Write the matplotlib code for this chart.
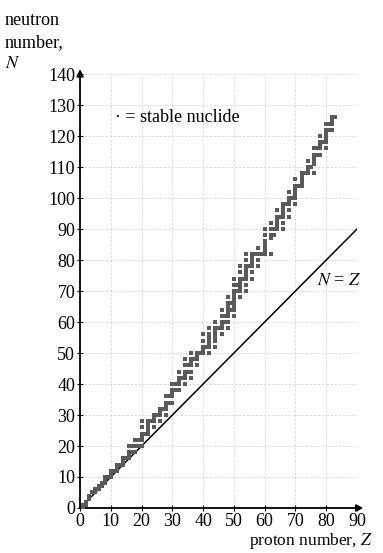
import matplotlib.pyplot as plt

plt.rcParams['font.family'] = ['Liberation Serif', 'DejaVu Serif']
plt.rcParams['mathtext.fontset'] = 'stix'

# stable nuclides: proton number Z -> neutron numbers N
stable = {
    1: [0, 1], 2: [1, 2], 3: [3, 4], 4: [5], 5: [5, 6], 6: [6, 7], 7: [7, 8],
    8: [8, 9, 10], 9: [10], 10: [10, 11, 12], 11: [12], 12: [12, 13, 14],
    13: [14], 14: [14, 15, 16], 15: [16], 16: [16, 17, 18, 20], 17: [18, 20],
    18: [18, 20, 22], 19: [20, 22], 20: [20, 22, 23, 24, 26, 28], 21: [24],
    22: [24, 25, 26, 27, 28], 23: [28], 24: [26, 28, 29, 30], 25: [30],
    26: [28, 30, 31, 32], 27: [32], 28: [30, 32, 33, 34, 36], 29: [34, 36],
    30: [34, 36, 37, 38, 40], 31: [38, 40], 32: [38, 40, 41, 42, 44], 33: [42],
    34: [40, 42, 43, 44, 46, 48], 35: [44, 46], 36: [42, 44, 46, 47, 48, 50],
    37: [48], 38: [46, 48, 49, 50], 39: [50], 40: [50, 51, 52, 54, 56],
    41: [52], 42: [50, 52, 53, 54, 55, 56, 58],
    44: [52, 54, 55, 56, 57, 58, 60], 45: [58], 46: [56, 58, 59, 60, 62, 64],
    47: [60, 62], 48: [58, 60, 62, 63, 64, 65, 66, 68], 49: [64, 66],
    50: [62, 64, 65, 66, 67, 68, 69, 70, 72, 74], 51: [70, 72],
    52: [68, 70, 71, 72, 73, 74, 76, 78], 53: [74],
    54: [70, 72, 74, 75, 76, 77, 78, 80, 82], 55: [78],
    56: [74, 76, 78, 79, 80, 81, 82], 57: [82], 58: [78, 80, 82, 84], 59: [82],
    60: [82, 83, 84, 85, 86, 88, 90], 62: [82, 87, 88, 90, 92], 63: [88, 90],
    64: [90, 91, 92, 93, 94, 96], 65: [94], 66: [90, 92, 94, 95, 96, 97, 98],
    67: [98], 68: [94, 96, 98, 99, 100, 102], 69: [100],
    70: [98, 100, 101, 102, 103, 104, 106], 71: [104],
    72: [104, 105, 106, 107, 108], 73: [108], 74: [108, 109, 110, 112],
    75: [110], 76: [108, 111, 112, 113, 114, 116], 77: [114, 116],
    78: [114, 116, 117, 118, 120], 79: [118],
    80: [116, 118, 119, 120, 121, 122, 124], 81: [122, 124],
    82: [122, 124, 125, 126], 83: [126],
}

Z = [z for z, ns in stable.items() for n in ns]
N = [n for z, ns in stable.items() for n in ns]

FS = 13

fig = plt.figure(figsize=(3.83, 5.53), dpi=100)
ax = fig.add_axes([0.209, 0.0814, 0.723, 0.7846])

ax.plot([0, 90], [0, 90], color='black', lw=1.1, zorder=2)
ax.scatter(Z, N, marker='s', s=6, color='#5a5a5a', linewidths=0, zorder=3)

ax.set_xlim(0, 90)
ax.set_ylim(0, 140)
ax.set_xticks(range(0, 91, 10))
ax.set_yticks(range(0, 141, 10))
ax.tick_params(labelsize=FS, length=5, width=0.8, pad=1, direction='inout')
ax.grid(True, color='#d6d6d6', lw=0.6, ls=(0, (3, 2)))
ax.set_axisbelow(True)
for s in ['top', 'right']:
    ax.spines[s].set_visible(False)
for s in ['left', 'bottom']:
    ax.spines[s].set_linewidth(1.3)

# axis arrows
ax.annotate('', xy=(93, 0), xytext=(89, 0), annotation_clip=False,
            arrowprops=dict(arrowstyle='-|>', color='black', lw=1.3,
                            mutation_scale=10))
ax.annotate('', xy=(0, 142.5), xytext=(0, 138), annotation_clip=False,
            arrowprops=dict(arrowstyle='-|>', color='black', lw=1.3,
                            mutation_scale=10))

ax.text(11.5, 126, '· = stable nuclide', fontsize=FS, va='center')
ax.text(77, 73.5, '$N$ = $Z$', fontsize=FS, va='center')

fig.text(5 / 383, 1 - 25 / 553, 'neutron', fontsize=FS,
         va='baseline', ha='left')
fig.text(5 / 383, 1 - 47 / 553, 'number,', fontsize=FS,
         va='baseline', ha='left')
fig.text(5 / 383, 1 - 68 / 553, '$N$', fontsize=FS, va='baseline', ha='left')
fig.text(373 / 383, 1 - 545 / 553, 'proton number, $Z$', fontsize=12.5,
         va='baseline', ha='right')

fig.savefig('out.png', dpi=100)
